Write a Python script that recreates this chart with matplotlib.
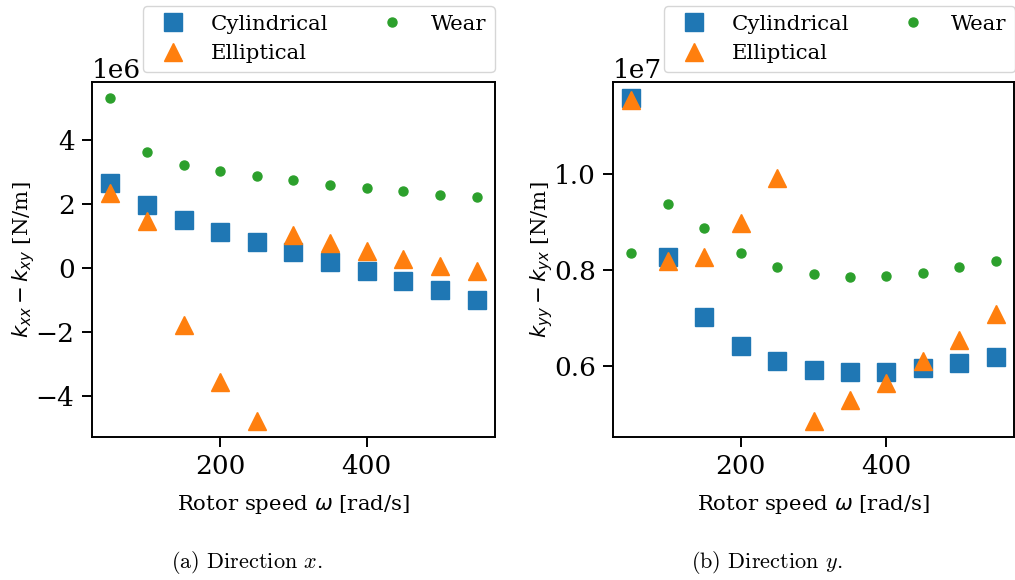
import numpy as np
import matplotlib
matplotlib.use("Agg")
import matplotlib.pyplot as plt

# rotor speeds [rad/s]
speed = [50, 100, 150, 200, 250, 300, 350, 400, 450, 500, 550]

# direction x: k_xx - k_xy [N/m]
x_cyl = [2.66e6, 1.95e6, 1.50e6, 1.13e6, 0.80e6, 0.49e6, 0.19e6, -0.11e6, -0.40e6, -0.68e6, -1.01e6]
x_ell = [2.34e6, 1.46e6, -1.79e6, -3.56e6, -4.78e6, 1.04e6, 0.78e6, 0.52e6, 0.29e6, 0.05e6, -0.11e6]
x_wear = [5.30e6, 3.63e6, 3.22e6, 3.03e6, 2.86e6, 2.73e6, 2.60e6, 2.49e6, 2.40e6, 2.29e6, 2.21e6]

# direction y: k_yy - k_yx [N/m]
y_cyl = [1.158e7, 0.827e7, 0.7025e7, 0.641e7, 0.609e7, 0.592e7, 0.587e7, 0.587e7, 0.595e7, 0.606e7, 0.619e7]
y_ell = [1.155e7, 0.819e7, 0.826e7, 0.898e7, 0.992e7, 0.485e7, 0.529e7, 0.564e7, 0.609e7, 0.654e7, 0.708e7]
y_wear = [0.835e7, 0.937e7, 0.888e7, 0.834e7, 0.806e7, 0.791e7, 0.786e7, 0.788e7, 0.794e7, 0.806e7, 0.819e7]

ylabels = ["$k_{xx} - k_{xy}$ [N/m]", "$k_{yy} - k_{yx}$ [N/m]"]
captions = ["(a) Direction $x$.", "(b) Direction $y$."]

plt.rcParams.update({
    "font.family": "serif",
    "font.serif": ["DejaVu Serif"],
    "font.size": 19,
    "axes.linewidth": 1.4,
    "axes.labelpad": 10,
    "xtick.major.size": 7,
    "ytick.major.size": 7,
    "xtick.major.width": 1.4,
    "ytick.major.width": 1.4,
    "xtick.major.pad": 5.5,
    "ytick.major.pad": 5.5,
    "xtick.labelsize": 19,
    "ytick.labelsize": 19,
})

fig = plt.figure(figsize=(10.15, 5.8), dpi=100)
ax1 = fig.add_axes([0.0906, 0.2466, 0.397, 0.612])
ax2 = fig.add_axes([0.604, 0.2466, 0.395, 0.612])

ms = 13
panels = [
    (ax1, x_cyl, x_ell, x_wear, ylabels[0], captions[0], 0.1409, -0.136, 247),
    (ax2, y_cyl, y_ell, y_wear, ylabels[1], captions[1], 0.654, -0.144, 767),
]
for ax, cyl, ell, wear, ylab, cap, lx, ylx, capx in panels:
    ax.plot(speed, cyl, "s", color="C0", ms=ms, label="Cylindrical")
    ax.plot(speed, ell, "^", color="C1", ms=ms, label="Elliptical")
    ax.plot(speed, wear, ".", color="C2", ms=ms, label="Wear")
    ax.set_xticks([200, 400])
    ax.set_xlabel(r"Rotor speed $\omega$ [rad/s]", fontsize=15.3)
    ax.set_ylabel(ylab, fontsize=15.3)
    ax.yaxis.set_label_coords(ylx, 0.5)
    ax.legend(ncol=2, loc="lower left", bbox_to_anchor=(lx, 0.876),
              bbox_transform=fig.transFigure, borderaxespad=0, fontsize=15.3)
    fig.text(capx / 1015, 0.03, cap, ha="center", va="center",
             fontsize=16, family="cmr10", math_fontfamily="cm")

plt.savefig("out.png", dpi=100)
